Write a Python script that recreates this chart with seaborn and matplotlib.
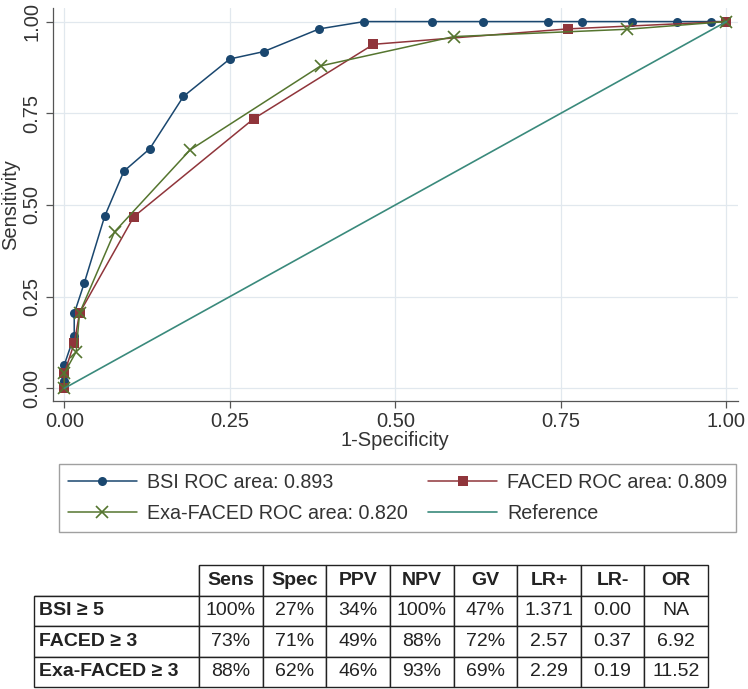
import matplotlib
matplotlib.use("Agg")
import matplotlib.pyplot as plt
from matplotlib.lines import Line2D
import seaborn as sns

# ROC points (1-specificity, sensitivity)
bsi_fpr = [0, 0, 0, 0, 0.015, 0.015, 0.030, 0.061, 0.090, 0.129, 0.180, 0.250,
           0.301, 0.385, 0.453, 0.556, 0.632, 0.730, 0.782, 0.858, 0.926, 0.977, 1.0]
bsi_tpr = [0, 0.020, 0.041, 0.064, 0.143, 0.204, 0.286, 0.469, 0.592, 0.653, 0.796, 0.898,
           0.918, 0.980, 1.0, 1.0, 1.0, 1.0, 1.0, 1.0, 1.0, 1.0, 1.0]

faced_fpr = [0, 0, 0.015, 0.023, 0.105, 0.286, 0.467, 0.760, 1.0]
faced_tpr = [0, 0.041, 0.123, 0.205, 0.468, 0.735, 0.938, 0.980, 1.0]

exa_fpr = [0, 0, 0.018, 0.023, 0.076, 0.190, 0.387, 0.588, 0.850, 1.0]
exa_tpr = [0, 0.041, 0.100, 0.205, 0.427, 0.650, 0.879, 0.959, 0.979, 1.0]

ref_xy = [0, 1]

legend_labels = ["BSI ROC area: 0.893", "Exa-FACED ROC area: 0.820",
                 "FACED ROC area: 0.809", "Reference"]

ticks = [0, 0.25, 0.5, 0.75, 1.0]

# summary table
table_cols = ["Sens", "Spec", "PPV", "NPV", "GV", "LR+", "LR-", "OR"]
table_rows = ["BSI \u2265 5", "FACED \u2265 3", "Exa-FACED \u2265 3"]
table_bsi = ["100%", "27%", "34%", "100%", "47%", "1.371", "0.00", "NA"]
table_faced = ["73%", "71%", "49%", "88%", "72%", "2.57", "0.37", "6.92"]
table_exa = ["88%", "62%", "46%", "93%", "69%", "2.29", "0.19", "11.52"]

NAVY = "#1a476f"
MAROON = "#90353b"
GREEN = "#55752f"
TEAL = "#3a8a7c"
GRID = "#e1e8ee"
TXT = "#333333"

sns.set_style("white")
plt.rcParams["font.family"] = ["Liberation Sans", "DejaVu Sans"]

W, H = 748, 689
fig = plt.figure(figsize=(W / 100, H / 100), dpi=100)

ax = fig.add_axes([52.7 / W, 1 - 401 / H, (738 - 52.7) / W, (401 - 8) / H])

sns.lineplot(x=bsi_fpr, y=bsi_tpr, ax=ax, estimator=None, sort=False, color=NAVY,
             marker="o", markersize=6.5, markeredgewidth=0, linewidth=1.1)
sns.lineplot(x=faced_fpr, y=faced_tpr, ax=ax, estimator=None, sort=False, color=MAROON,
             marker="s", markersize=6.5, markeredgewidth=0, linewidth=1.1)
sns.lineplot(x=exa_fpr, y=exa_tpr, ax=ax, estimator=None, sort=False, color=GREEN,
             marker="x", markersize=8, markeredgewidth=1.2, markeredgecolor=GREEN,
             linewidth=1.1)
sns.lineplot(x=ref_xy, y=ref_xy, ax=ax, estimator=None, sort=False, color=TEAL,
             linewidth=1.2)

ax.set_xlim(-0.0175, 1.0175)
ax.set_ylim(-0.0346, 1.037)
ax.set_xticks(ticks)
ax.set_yticks(ticks)
ax.set_xticklabels([f"{t:.2f}" for t in ticks], fontsize=14.5, color=TXT)
ax.set_yticklabels([f"{t:.2f}" for t in ticks], fontsize=14.5, color=TXT,
                   rotation=90, va="center")
ax.grid(True, color=GRID, linewidth=0.9)
ax.set_axisbelow(True)
ax.tick_params(axis="both", direction="out", length=5, width=0.9, color="#555555",
               left=True, bottom=True, pad=3)
for side in ["top", "right"]:
    ax.spines[side].set_visible(False)
for side in ["left", "bottom"]:
    ax.spines[side].set_color("#555555")
    ax.spines[side].set_linewidth(0.9)
ax.set_xlabel("1-Specificity", fontsize=14.5, color=TXT, labelpad=0)
ax.set_ylabel("Sensitivity", fontsize=14.5, color=TXT, labelpad=2)

handles = [
    Line2D([], [], color=NAVY, marker="o", markersize=6.5, markeredgewidth=0, lw=1.1),
    Line2D([], [], color=GREEN, marker="x", markersize=8, markeredgewidth=1.2, lw=1.1),
    Line2D([], [], color=MAROON, marker="s", markersize=6.5, markeredgewidth=0, lw=1.1),
    Line2D([], [], color=TEAL, lw=1.2),
]
leg = fig.legend(handles, legend_labels, ncol=2, loc="upper left",
                 bbox_to_anchor=(59 / W, 1 - 464 / H), borderaxespad=0,
                 fontsize=14.2, handlelength=3.5, handletextpad=0.5,
                 columnspacing=1.05, labelspacing=0.6, borderpad=0.45,
                 numpoints=1, frameon=True, fancybox=False, labelcolor=TXT)
leg.get_frame().set_edgecolor("#888888")
leg.get_frame().set_linewidth(1.0)

# table
tax = fig.add_axes([34 / W, 1 - 687 / H, (708 - 34) / W, (687 - 565) / H])
tax.axis("off")
cell_text = [[""] + table_cols,
             [table_rows[0]] + table_bsi,
             [table_rows[1]] + table_faced,
             [table_rows[2]] + table_exa]
label_w = 165 / 674
col_w = (1 - label_w) / len(table_cols)
tbl = tax.table(cellText=cell_text, colWidths=[label_w] + [col_w] * len(table_cols),
                cellLoc="center", bbox=[0, 0, 1, 1])
tbl.auto_set_font_size(False)
for (r, c), cell in tbl.get_celld().items():
    cell.set_edgecolor("#222222")
    cell.set_linewidth(1.0)
    txt = cell.get_text()
    txt.set_fontsize(14)
    txt.set_color("#222222")
    if r == 0 or c == 0:
        txt.set_fontweight("bold")
    if c == 0:
        txt.set_ha("left")
        cell.PAD = 0.03
    if r == 0 and c == 0:
        cell.visible_edges = "BR"

fig.savefig("out.png", dpi=100)
